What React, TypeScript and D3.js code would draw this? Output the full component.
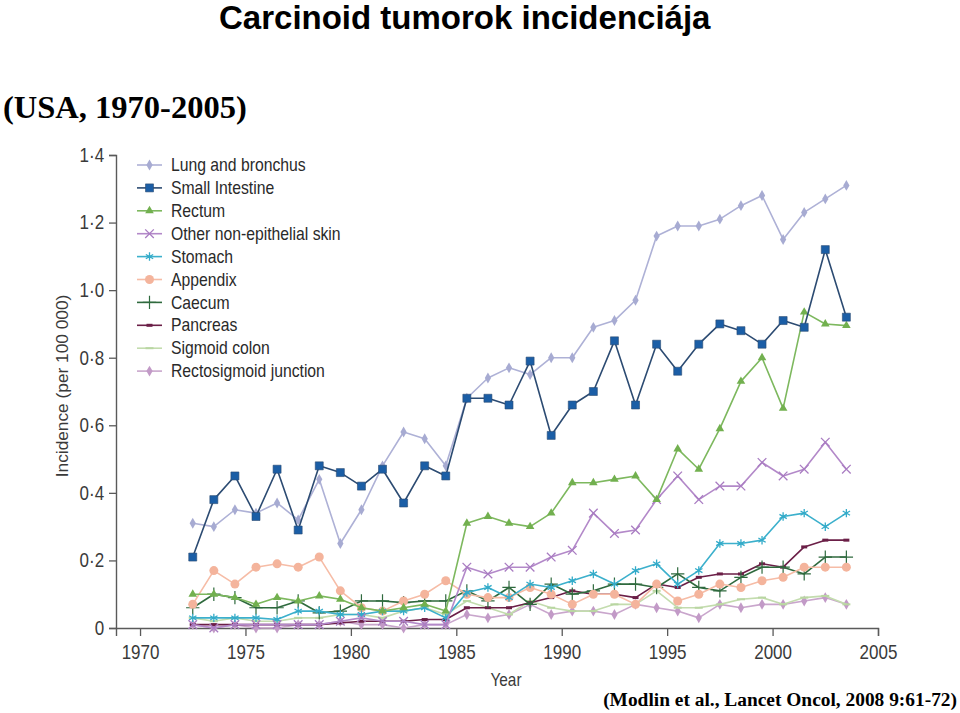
import React, { useEffect, useRef } from "react";
import * as d3 from "d3";

const years = [1973,1974,1975,1976,1977,1978,1979,1980,1981,1982,1983,1984,1985,1986,1987,1988,1989,1990,1991,1992,1993,1994,1995,1996,1997,1998,1999,2000,2001,2002,2003,2004];

const lung = [0.31,0.30,0.35,0.34,0.37,0.32,0.44,0.25,0.35,0.48,0.58,0.56,0.48,0.68,0.74,0.77,0.75,0.80,0.80,0.89,0.91,0.97,1.16,1.19,1.19,1.21,1.25,1.28,1.15,1.23,1.27,1.31];
const smallIntestine = [0.21,0.38,0.45,0.33,0.47,0.29,0.48,0.46,0.42,0.47,0.37,0.48,0.45,0.68,0.68,0.66,0.79,0.57,0.66,0.70,0.85,0.66,0.84,0.76,0.84,0.90,0.88,0.84,0.91,0.89,1.12,0.92];
const rectum = [0.10,0.10,0.09,0.07,0.09,0.08,0.095,0.085,0.06,0.05,0.06,0.07,0.05,0.31,0.33,0.31,0.30,0.34,0.43,0.43,0.44,0.45,0.38,0.53,0.47,0.59,0.73,0.80,0.65,0.935,0.90,0.895];
const skin = [0.01,0.00,0.01,0.01,0.01,0.01,0.01,0.02,0.03,0.02,0.02,0.01,0.01,0.18,0.16,0.18,0.18,0.21,0.23,0.34,0.28,0.29,0.38,0.45,0.38,0.42,0.42,0.49,0.45,0.47,0.55,0.47];
const stomach = [0.03,0.03,0.03,0.03,0.025,0.05,0.05,0.04,0.04,0.05,0.05,0.06,0.03,0.105,0.12,0.09,0.13,0.12,0.14,0.16,0.13,0.17,0.19,0.13,0.17,0.25,0.25,0.26,0.33,0.34,0.30,0.34];
const appendix = [0.07,0.17,0.13,0.18,0.19,0.18,0.21,0.11,0.06,0.05,0.08,0.10,0.14,0.10,0.09,0.09,0.12,0.10,0.07,0.10,0.10,0.07,0.13,0.08,0.10,0.13,0.12,0.14,0.15,0.18,0.18,0.18];
const caecum = [0.06,0.10,0.09,0.06,0.06,0.08,0.045,0.05,0.08,0.08,0.075,0.08,0.08,0.11,0.08,0.12,0.07,0.13,0.10,0.11,0.13,0.13,0.12,0.16,0.12,0.11,0.15,0.18,0.18,0.16,0.21,0.21];
const pancreas = [0.01,0.01,0.01,0.01,0.01,0.01,0.01,0.015,0.02,0.02,0.02,0.025,0.025,0.06,0.06,0.06,0.075,0.09,0.11,0.10,0.10,0.09,0.13,0.12,0.15,0.16,0.16,0.19,0.18,0.24,0.26,0.26];
const sigmoid = [0.03,0.02,0.03,0.02,0.02,0.03,0.03,0.04,0.04,0.03,0.05,0.06,0.04,0.08,0.06,0.04,0.08,0.06,0.05,0.05,0.07,0.07,0.11,0.06,0.06,0.07,0.085,0.09,0.07,0.09,0.095,0.07];
const rectosigmoid = [0.01,0.00,0.01,0.00,0.00,0.01,0.01,0.02,0.01,0.01,0.00,0.01,0.01,0.04,0.03,0.04,0.07,0.04,0.05,0.05,0.04,0.07,0.06,0.05,0.03,0.07,0.06,0.07,0.07,0.08,0.09,0.07];

const seriesNames = ["Lung and bronchus","Small Intestine","Rectum","Other non-epithelial skin","Stomach","Appendix","Caecum","Pancreas","Sigmoid colon","Rectosigmoid junction"];
const seriesValues = [lung, smallIntestine, rectum, skin, stomach, appendix, caecum, pancreas, sigmoid, rectosigmoid];
const lineColors = ["#aeb1d6","#2c4b72","#7db85e","#b389c9","#3cb0cc","#f6bca6","#2f6a3e","#6b1f47","#c3dcae","#c9a6cc"];
const markerColors = ["#a7abd2","#1b5ea6","#72b04f","#a97cc2","#33abc9","#f4b49c","#2f6a3e","#6b1f47","#b9d6a2","#c29ac7"];
const markerKinds = ["diamond","square","triangle","times","asterisk","circle","plus","dot","dash","diamond"];

const xTicks = [1970,1975,1980,1985,1990,1995,2000,2005];
const yTicks = [0,0.2,0.4,0.6,0.8,1.0,1.2,1.4];

const titleText = "Carcinoid tumorok incidenciája";
const subtitleText = "(USA, 1970-2005)";
const sourceText = "(Modlin et al., Lancet Oncol, 2008 9:61-72)";

const chartFont = "'Liberation Sans', Arial, sans-serif";

function drawMarker(g: any, kind: string, color: string, cx: number, cy: number) {
  const t = `translate(${cx},${cy})`;
  if (kind === "diamond") {
    g.append("path").attr("d", d3.symbol(d3.symbolDiamond, 34)()).attr("transform", t).attr("fill", color);
  } else if (kind === "square") {
    g.append("path").attr("d", d3.symbol(d3.symbolSquare, 64)()).attr("transform", t).attr("fill", color).attr("stroke", "#2c4b72").attr("stroke-width", 0.6);
  } else if (kind === "triangle") {
    g.append("path").attr("d", d3.symbol(d3.symbolTriangle, 32)()).attr("transform", t).attr("fill", color);
  } else if (kind === "times") {
    g.append("path").attr("d", d3.symbol(d3.symbolTimes, 50)()).attr("transform", t).attr("fill", "none").attr("stroke", color).attr("stroke-width", 1.3);
  } else if (kind === "asterisk") {
    g.append("path").attr("d", d3.symbol(d3.symbolAsterisk, 50)()).attr("transform", t).attr("fill", "none").attr("stroke", color).attr("stroke-width", 1.3);
  } else if (kind === "circle") {
    g.append("circle").attr("cx", cx).attr("cy", cy).attr("r", 4.5).attr("fill", color);
  } else if (kind === "plus") {
    g.append("path").attr("d", d3.symbol(d3.symbolPlus, 60)()).attr("transform", t).attr("fill", "none").attr("stroke", color).attr("stroke-width", 1.2);
  } else if (kind === "dot") {
    g.append("rect").attr("x", cx - 3).attr("y", cy - 1.5).attr("width", 6).attr("height", 3).attr("fill", color);
  } else if (kind === "dash") {
    g.append("rect").attr("x", cx - 4).attr("y", cy - 1).attr("width", 8).attr("height", 2).attr("fill", color);
  }
}

export default function App() {
  const ref = useRef<SVGSVGElement | null>(null);

  useEffect(() => {
    const svg = d3.select(ref.current);
    svg.selectAll("*").remove();

    const x = d3.scaleLinear().domain([1968.86, 2005]).range([116, 878]);
    const y = d3.scaleLinear().domain([0, 1.4]).range([628, 155]);

    // titles
    svg.append("text").attr("x", 219).attr("y", 29).attr("font-family", "'Liberation Sans', Arial, sans-serif")
      .attr("font-weight", "bold").attr("font-size", 33).attr("fill", "#000").text(titleText);
    svg.append("text").attr("x", 3).attr("y", 118).attr("font-family", "'Liberation Serif', 'Times New Roman', serif")
      .attr("font-weight", "bold").attr("font-size", 32.5).attr("fill", "#000").text(subtitleText);
    svg.append("text").attr("x", 957).attr("y", 706).attr("text-anchor", "end").attr("font-family", "'Liberation Serif', 'Times New Roman', serif")
      .attr("font-weight", "bold").attr("font-size", 19.4).attr("fill", "#000").text(sourceText);

    const axisColor = "#5a5a5a";
    const textColor = "#3a3a3a";
    // x axis
    const xAxis = svg.append("g").attr("transform", `translate(0,628)`)
      .call(d3.axisBottom(x).tickValues(xTicks).tickFormat(d3.format("d")).tickSizeOuter(0).tickSize(8).tickPadding(9));
    xAxis.select(".domain").attr("stroke", axisColor).attr("stroke-width", 1.4);
    xAxis.selectAll(".tick line").attr("stroke", axisColor).attr("stroke-width", 1.3);
    xAxis.selectAll(".tick text").attr("font-family", chartFont).attr("font-size", 20).attr("fill", textColor)
      .attr("transform", "scale(0.85,1)");

    // y axis
    const yAxis = svg.append("g").attr("transform", `translate(116,0)`)
      .call(d3.axisLeft(y).tickValues(yTicks).tickFormat((d: any) => d === 0 ? "0" : d3.format(".1f")(d).replace(".", "·")).tickSizeOuter(0).tickSize(7).tickPadding(5));
    yAxis.select(".domain").attr("stroke", axisColor).attr("stroke-width", 1.4);
    yAxis.selectAll(".tick line").attr("stroke", axisColor).attr("stroke-width", 1.3);
    yAxis.selectAll(".tick text").attr("font-family", chartFont).attr("font-size", 20).attr("fill", textColor)
      .attr("x", -14).attr("transform", "scale(0.85,1)");

    // axis titles
    svg.append("g").attr("transform", "translate(506,686) scale(0.88,1)")
      .append("text").attr("text-anchor", "middle").attr("font-family", chartFont)
      .attr("font-size", 17.5).attr("fill", textColor).text("Year");
    svg.append("text").attr("transform", "translate(68,386) rotate(-90)").attr("text-anchor", "middle").attr("font-family", chartFont)
      .attr("font-size", 17.3).attr("fill", textColor).text("Incidence (per 100 000)");

    // series (drawn so that the top legend entries sit above)
    const order = [9, 8, 7, 6, 5, 4, 3, 2, 0, 1];
    const line = d3.line<number>().x((_, i) => x(years[i] - 0.5)).y((d) => y(d));
    order.forEach((si) => {
      const g = svg.append("g");
      g.append("path").attr("d", line(seriesValues[si]) as string).attr("fill", "none")
        .attr("stroke", lineColors[si]).attr("stroke-width", 1.6).attr("stroke-linejoin", "round");
      seriesValues[si].forEach((v, i) => drawMarker(g, markerKinds[si], markerColors[si], x(years[i] - 0.5), y(v)));
    });

    // legend
    const lg = svg.append("g");
    seriesNames.forEach((name, i) => {
      const cy = 165 + i * 22.9;
      lg.append("line").attr("x1", 137).attr("x2", 162).attr("y1", cy).attr("y2", cy)
        .attr("stroke", lineColors[i]).attr("stroke-width", 1.6);
      drawMarker(lg, markerKinds[i], markerColors[i], 149.5, cy);
      lg.append("g").attr("transform", `translate(171,${cy}) scale(0.9,1)`)
        .append("text").attr("dy", "0.35em").attr("font-family", chartFont)
        .attr("font-size", 17.5).attr("fill", "#2a2a2a").text(name);
    });
  }, []);

  return (
    <svg ref={ref} width={960} height={713} style={{ position: "absolute", left: 0, top: 0, background: "#fff" }} />
  );
}
